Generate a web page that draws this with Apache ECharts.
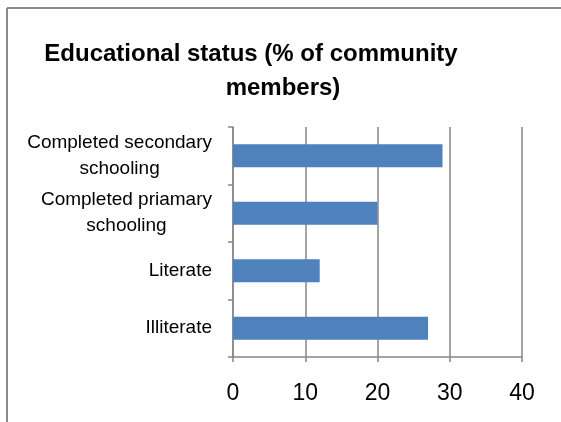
<!DOCTYPE html>
<html>
<head>
<meta charset="utf-8">
<script src="https://cdn.jsdelivr.net/npm/echarts@6/dist/echarts.min.js"></script>
<style>
  html, body { margin: 0; padding: 0; background: #fff; }
  #chart { width: 561px; height: 422px; }
</style>
</head>
<body>
<div id="chart"></div>
<script>
// categories listed bottom to top, as the category axis draws them
const categories = ['Illiterate', 'Literate', 'Completed priamary\nschooling', 'Completed secondary\nschooling'];
const values = [27, 12, 20, 29];
const xTicks = [0, 10, 20, 30, 40];

const chart = echarts.init(document.getElementById('chart'));
const grey = '#878787';

chart.setOption({
    animation: false,
    title: [
        { text: 'Educational status (% of community', left: 246, top: 37, textAlign: 'center',
          textStyle: { fontFamily: 'Liberation Sans', fontSize: 24, fontWeight: 'bold', color: '#000' } },
        { text: 'members)', left: 278, top: 71, textAlign: 'center',
          textStyle: { fontFamily: 'Liberation Sans', fontSize: 24, fontWeight: 'bold', color: '#000' } }
    ],
    // outer chart frame (only top and left edges fall inside the picture)
    graphic: [
        { type: 'line', shape: { x1: 7, y1: 8, x2: 561, y2: 8 }, style: { stroke: '#8a8a8a', lineWidth: 2 } },
        { type: 'line', shape: { x1: 7, y1: 8, x2: 7, y2: 422 }, style: { stroke: '#8a8a8a', lineWidth: 2 } }
    ],
    grid: { left: 233, right: 39, top: 127, bottom: 65 },
    xAxis: {
        type: 'value', min: xTicks[0], max: xTicks[xTicks.length - 1], interval: 10,
        axisLine: { show: true, lineStyle: { color: grey, width: 1.5 } },
        axisTick: { show: true, length: 5, lineStyle: { color: grey, width: 1.5 } },
        splitLine: { show: true, lineStyle: { color: grey, width: 1.5 } },
        axisLabel: { margin: 25, fontFamily: 'Liberation Sans', fontSize: 23, color: '#000' }
    },
    yAxis: {
        type: 'category', data: categories,
        axisLine: { show: true, lineStyle: { color: grey, width: 1.5 } },
        axisTick: { show: true, length: 5, lineStyle: { color: grey, width: 1.5 } },
        axisLabel: {
            margin: 21, fontFamily: 'Liberation Sans', fontSize: 19, color: '#000', lineHeight: 26,
            formatter: v => v.split('\n').map(s => '{c|' + s + '}').join('\n'),
            rich: { c: { align: 'center', fontFamily: 'Liberation Sans', fontSize: 19, lineHeight: 26, color: '#000' } }
        }
    },
    series: [{
        type: 'bar', data: values, barWidth: 23,
        itemStyle: { color: '#4f81bd' }
    }]
});
</script>
</body>
</html>
